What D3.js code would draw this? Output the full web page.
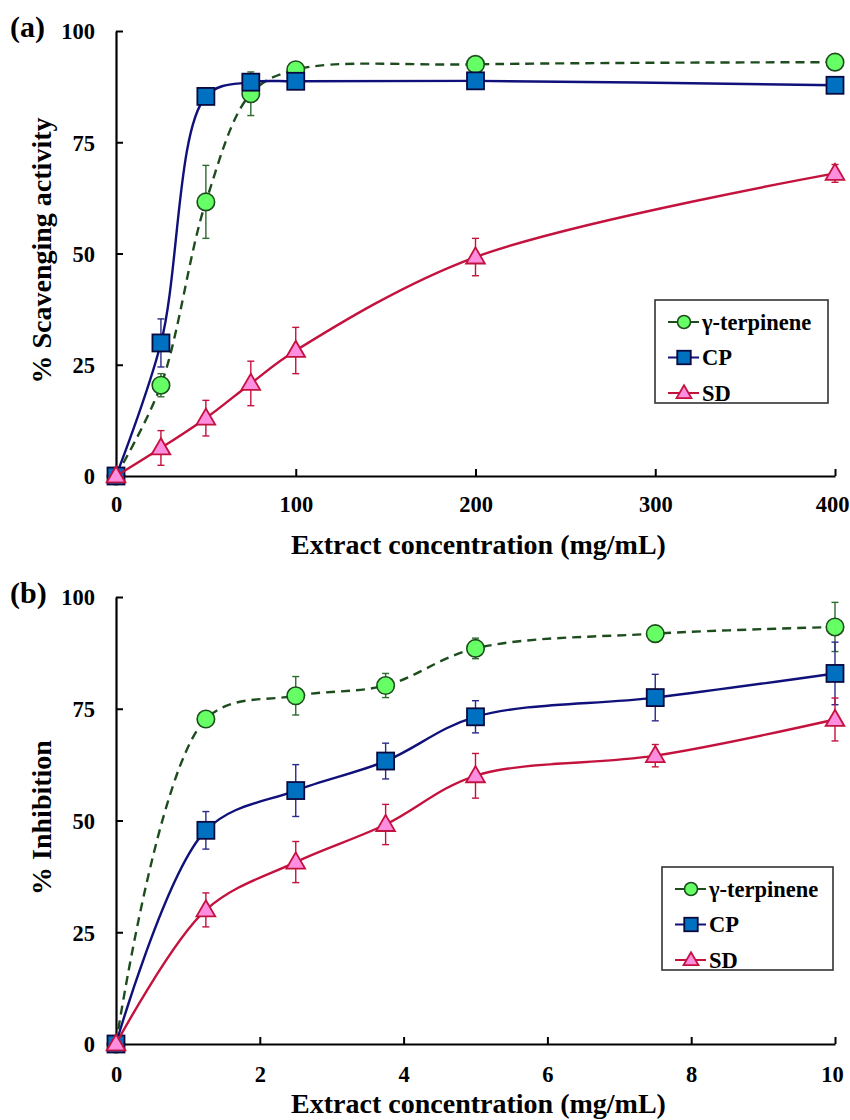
<!DOCTYPE html>
<html>
<head>
<meta charset="utf-8">
<script src="https://cdn.jsdelivr.net/npm/d3@7"></script>
<style>
  html, body { margin: 0; padding: 0; background: #fff; }
  svg { display: block; }
  text { font-family: "Liberation Serif", "Times New Roman", serif; font-weight: bold; fill: #000; }
</style>
</head>
<body>
<svg id="chart" width="850" height="1120"></svg>
<script>
// Panel (a): radical scavenging activity vs extract concentration (mg/mL)
const concA = [0, 25, 50, 75, 100, 200, 400];
const terpA = [0, 20.4, 61.6, 85.9, 91.3, 92.5, 93.0];
const terpAErr = [0, 2.6, 8.2, 4.9, 0.8, 0.6, 0.6];
const cpA = [0, 29.9, 85.3, 88.5, 88.7, 88.8, 87.8];
const cpAErr = [0, 5.4, 0.5, 0.5, 0.4, 0.4, 0.4];
const sdA = [0, 6.3, 13.0, 20.8, 28.2, 49.2, 68.0];
const sdAErr = [0, 3.9, 4.0, 5.0, 5.2, 4.2, 2.0];
const xTicksA = [0, 100, 200, 300, 400];

// Panel (b): inhibition vs extract concentration (mg/mL)
const concB = [0, 1.25, 2.5, 3.75, 5, 7.5, 10];
const terpB = [0, 72.7, 77.9, 80.2, 88.5, 91.8, 93.3];
const terpBErr = [0, 1.0, 4.3, 2.7, 2.3, 0.5, 5.5];
const cpB = [0, 47.8, 56.7, 63.3, 73.2, 77.5, 82.9];
const cpBErr = [0, 4.2, 5.8, 4.0, 3.6, 5.2, 7.0];
const sdB = [0, 30.0, 40.7, 49.1, 60.0, 64.5, 72.6];
const sdBErr = [0, 3.8, 4.6, 4.5, 5.0, 2.5, 4.8];
const xTicksB = [0, 2, 4, 6, 8, 10];

const yTicks = [0, 25, 50, 75, 100];
const seriesNames = ["\u03b3-terpinene", "CP", "SD"];

const styles = [
  { line: "#1d4d1d", dash: "9,6", fill: "#66ff66", stroke: "#1d4d1d", err: "#2f6a2f", shape: "circle" },
  { line: "#10107a", dash: null, fill: "#0070c0", stroke: "#0a0a40", err: "#2a2a8a", shape: "square" },
  { line: "#c4123e", dash: null, fill: "#ff8ee0", stroke: "#c4123e", err: "#c4123e", shape: "triangle" }
];

const svg = d3.select("#chart");
const left = 116, right = 835;

function marker(g, shape, s, style) {
  if (shape === "circle") {
    g.append("circle").attr("r", s * 0.5).attr("fill", style.fill)
      .attr("stroke", style.stroke).attr("stroke-width", 1.6);
  } else if (shape === "square") {
    g.append("rect").attr("x", -s / 2).attr("y", -s / 2).attr("width", s).attr("height", s)
      .attr("fill", style.fill).attr("stroke", style.stroke).attr("stroke-width", 1.8);
  } else {
    const h = s * 0.95, w = s * 1.1;
    g.append("path").attr("d", `M0,${-h * 0.6}L${w / 2},${h * 0.4}L${-w / 2},${h * 0.4}Z`)
      .attr("fill", style.fill).attr("stroke", style.stroke).attr("stroke-width", 1.8)
      .attr("stroke-linejoin", "miter");
  }
}

function panel(opt) {
  const x = d3.scaleLinear().domain(opt.xDomain).range([left, right]);
  const y = d3.scaleLinear().domain([0, 100]).range([opt.bottom, opt.top]);
  const g = svg.append("g");

  // axes: left and bottom only, ticks pointing inward
  const xAxis = d3.axisBottom(x).tickValues(opt.xTicks).tickSizeInner(-7).tickSizeOuter(0).tickFormat(d3.format("d"));
  const yAxis = d3.axisLeft(y).tickValues(yTicks).tickSizeInner(-7).tickSizeOuter(0);
  const gx = g.append("g").attr("transform", `translate(0,${opt.bottom})`).call(xAxis);
  const gy = g.append("g").attr("transform", `translate(${left},0)`).call(yAxis);
  [gx, gy].forEach(a => {
    a.select(".domain").attr("stroke", "#000").attr("stroke-width", 2.2);
    a.selectAll(".tick line").attr("stroke", "#000").attr("stroke-width", 2);
    a.selectAll(".tick text").style("font-size", "22.5px").style("font-family", "Liberation Serif").style("font-weight", "bold").attr("fill", "#000");
  });
  gx.selectAll(".tick text").attr("y", opt.xLabelOffset).attr("dy", "0.35em")
    .attr("dx", (d, i, n) => i === n.length - 1 ? -3 : 0);
  gy.selectAll(".tick text").attr("x", -21).attr("dy", "0.35em");

  g.append("text").attr("x", (left + right) / 2 + 3).attr("y", opt.bottom + opt.titleOffset)
    .attr("text-anchor", "middle").style("font-size", "28px").text("Extract concentration (mg/mL)");
  g.append("text").attr("transform", `translate(51,${(opt.top + opt.bottom) / 2 - 3}) rotate(-90)`)
    .attr("text-anchor", "middle").style("font-size", "28px").text(opt.yTitle);
  g.append("text").attr("x", 10).attr("y", opt.top + 6).style("font-size", "30px").text(opt.tag);

  const line = d3.line().x(d => x(d[0])).y(d => y(d[1])).curve(d3.curveCatmullRom.alpha(0.5));

  opt.series.forEach((vals, i) => {
    const st = styles[i];
    const errs = opt.errs[i];
    const pts = opt.xs.map((c, j) => [c, vals[j], errs[j]]);
    const sg = g.append("g");
    const p = sg.append("path").datum(pts).attr("d", line).attr("fill", "none")
      .attr("stroke", st.line).attr("stroke-width", 2.4);
    if (st.dash) p.attr("stroke-dasharray", st.dash);
    // error bars
    const eb = sg.selectAll("g.err").data(pts.filter(d => d[2] > 0.6)).join("g").attr("class", "err");
    eb.append("line").attr("x1", d => x(d[0])).attr("x2", d => x(d[0]))
      .attr("y1", d => y(d[1] + d[2])).attr("y2", d => y(d[1] - d[2]))
      .attr("stroke", st.err).attr("stroke-width", 1.4);
    [1, -1].forEach(sgn => {
      eb.append("line").attr("x1", d => x(d[0]) - 3.5).attr("x2", d => x(d[0]) + 3.5)
        .attr("y1", d => y(d[1] + sgn * d[2])).attr("y2", d => y(d[1] + sgn * d[2]))
        .attr("stroke", st.err).attr("stroke-width", 1.4);
    });
    // markers
    sg.selectAll("g.mk").data(pts).join("g").attr("class", "mk")
      .attr("transform", d => `translate(${x(d[0])},${y(d[1])})`)
      .each(function () { marker(d3.select(this), st.shape, st.shape === "circle" ? 17.5 : 17, st); });
  });

  // legend
  const L = opt.legend;
  g.append("rect").attr("x", L.x).attr("y", L.y).attr("width", L.w).attr("height", L.h)
    .attr("fill", "#fff").attr("stroke", "#333").attr("stroke-width", 1.6);
  seriesNames.forEach((name, i) => {
    const st = styles[i];
    const cy = L.y + 22 + i * 35.5;
    const lx = L.x + 13;
    g.append("line").attr("x1", lx).attr("x2", lx + 31).attr("y1", cy).attr("y2", cy)
      .attr("stroke", st.line).attr("stroke-width", 2);
    const mg = g.append("g").attr("transform", `translate(${lx + 16},${cy})`);
    marker(mg, st.shape, st.shape === "circle" ? 13 : 13.5, st);
    g.append("text").attr("x", lx + 34).attr("y", cy).attr("dy", "0.34em")
      .style("font-size", "22.5px").text(name);
  });
}

panel({
  xDomain: [0, 400], xTicks: xTicksA, top: 31, bottom: 476, tag: "(a)",
  xLabelOffset: 28, titleOffset: 78,
  yTitle: "% Scavenging activity", xs: concA,
  series: [terpA, cpA, sdA], errs: [terpAErr, cpAErr, sdAErr],
  legend: { x: 655, y: 300, w: 173, h: 103 }
});

panel({
  xDomain: [0, 10], xTicks: xTicksB, top: 597, bottom: 1044, tag: "(b)",
  xLabelOffset: 30, titleOffset: 69,
  yTitle: "% Inhibition", xs: concB,
  series: [terpB, cpB, sdB], errs: [terpBErr, cpBErr, sdBErr],
  legend: { x: 662, y: 867, w: 171, h: 103 }
});
</script>
</body>
</html>
